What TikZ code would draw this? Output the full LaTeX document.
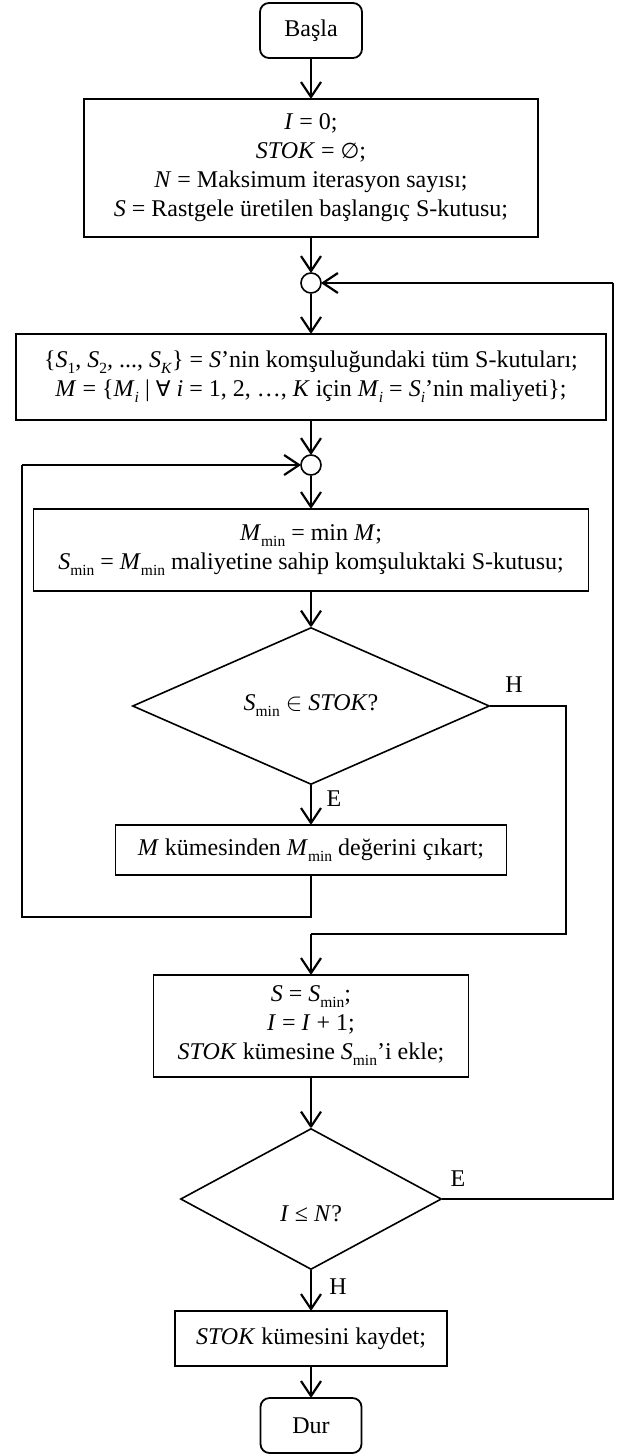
\documentclass[tikz,border=0pt]{standalone}
\usepackage{fontspec}
\setmainfont{Liberation Serif}
\newfontfamily\symf[Scale=0.9]{DejaVu Sans}
\usetikzlibrary{arrows.meta,shapes.geometric}
\newcommand\lowsub[1]{\raisebox{-0.25em}{\fontsize{15.5}{15.5}\selectfont #1}}
\newcommand\iv[1]{\textit{#1}}
\begin{document}
\begin{tikzpicture}[x=1pt,y=-1pt,
  txt/.style={font=\fontsize{24}{29}\selectfont, align=center, inner sep=0pt},
  proc/.style={txt, draw, line width=1.8pt, rectangle},
  term/.style={proc, rounded corners=9pt},
  dec/.style={txt, draw, line width=1.6pt, diamond},
  junc/.style={draw, line width=1.6pt, circle, minimum size=20pt, inner sep=0pt},
  lbl/.style={font=\fontsize{24}{24}\selectfont, inner sep=0pt},
  arr/.style={line width=2.2pt, -{Straight Barb[length=15pt,width=20pt,line join=round]}},
  loopline/.style={line width=1.4pt, line join=miter}]
\useasboundingbox (0,0) rectangle (622,1455);

\node[term, minimum width=102pt, minimum height=55pt] (start) at (311,30.5) {Başla};
\node[proc, minimum width=454pt, minimum height=138pt] (b1) at (311,168)
  {\iv{I} = 0;\\ \iv{STOK} = {\symf ∅};\\ \iv{N} = Maksimum iterasyon sayısı;\\ \iv{S} = Rastgele üretilen başlangıç S-kutusu;};
\node[junc] (c1) at (311,283) {};
\node[proc, minimum width=590pt, minimum height=86pt] (b2) at (311,377)
  {\{\iv{S}\lowsub{1}, \iv{S}\lowsub{2}\iv{,} ..., \iv{S}\lowsub{\iv{K}}\} = \iv{S}’nin komşuluğundaki tüm S-kutuları;\\
   \iv{M} = \{\iv{M}\lowsub{\iv{i}} | {\symf ∀} \iv{i} = 1, 2, …, \iv{K} için \iv{M}\lowsub{\iv{i}} = \iv{S}\lowsub{\iv{i}}’nin maliyeti\};};
\node[junc] (c2) at (311,465) {};
\node[proc, minimum width=555pt, minimum height=82pt] (b3) at (311,550)
  {\iv{M}\lowsub{min} = min \iv{M};\\ \iv{S}\lowsub{min} = \iv{M}\lowsub{min} maliyetine sahip komşuluktaki S-kutusu;};
\node[dec, minimum width=357pt, minimum height=157pt] (d1) at (311,706)
  {\iv{S}\lowsub{min} $\in$ \iv{STOK}?};
\node[proc, minimum width=391pt, minimum height=50pt] (b4) at (311,850)
  {\iv{M} kümesinden \iv{M}\lowsub{min} değerini çıkart;};
\node[proc, minimum width=315pt, minimum height=102pt] (b5) at (311,1026)
  {\iv{S} = \iv{S}\lowsub{min};\\ \iv{I} = \iv{I} + 1;\\ \iv{STOK} kümesine \iv{S}\lowsub{min}’i ekle;};
\node[dec, minimum width=261pt, minimum height=141pt,
  label={[lbl, yshift=-15pt]center:\iv{I} ≤ \iv{N}?}] (d2) at (311,1199) {};
\node[proc, minimum width=272pt, minimum height=55pt] (b6) at (311,1338.5)
  {\iv{STOK} kümesini kaydet;};
\node[term, minimum width=101pt, minimum height=55pt] (end) at (311,1425.5) {Dur};

\node[lbl] (h1) at (514,685) {H};
\node[lbl] (e1) at (334,799) {E};
\node[lbl] (e2) at (458,1179) {E};
\node[lbl] (h2) at (338,1287) {H};

\coordinate (l1) at (311,917);
\coordinate (l2) at (22,917);
\coordinate (l3) at (22,465);
\coordinate (r1) at (566,706);
\coordinate (r2) at (566,934);
\coordinate (r3) at (311,934);
\coordinate (q1) at (613,1199);
\coordinate (q2) at (613,283);

\draw[arr] (start.south) -- (b1.north);
\draw[arr] (b1.south) -- (c1.north);
\draw[arr] (c1.south) -- (b2.north);
\draw[arr] (b2.south) -- (c2.north);
\draw[arr] (c2.south) -- (b3.north);
\draw[arr] (b3.south) -- (d1.north);
\draw[arr] (d1.south) -- (b4.north);
\draw[arr] (b5.south) -- (d2.north);
\draw[arr] (d2.south) -- (b6.north);
\draw[arr] (b6.south) -- (end.north);

\draw[loopline] (b4.south) -- (l1) -- (l2) -- (l3);
\draw[arr] (l3) -- (c2.west);
\draw[loopline] (d1.east) -- (r1) -- (r2) -- (r3);
\draw[arr] (r3) -- (b5.north);
\draw[loopline] (d2.east) -- (q1) -- (q2);
\draw[arr] (q2) -- (c1.east);
\end{tikzpicture}
\end{document}
